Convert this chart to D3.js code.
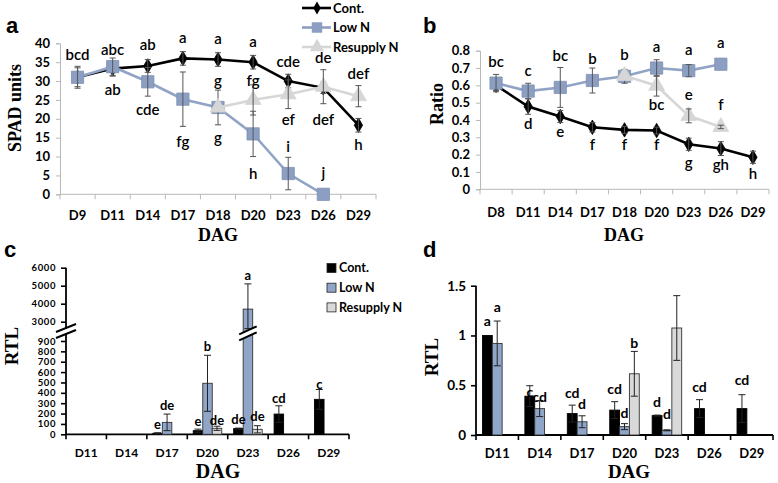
<!DOCTYPE html>
<html><head><meta charset="utf-8">
<script src="https://cdn.jsdelivr.net/npm/d3@7"></script>
<style>
body{margin:0;background:#fff;}
svg{display:block;}
</style></head>
<body>
<svg id="chart" width="778" height="483"></svg>
<script>
// ---------- Data ----------
const seriesNames = ["Cont.", "Low N", "Resupply N"];

// Panel a: SPAD units
const daysA = ["D9","D11","D14","D17","D18","D20","D23","D26","D29"];
const spadCont    = [31, 33.3, 34, 36, 35.7, 35, 30, 28.2, 18.3];
const spadContErr = [2.5, 2, 1.7, 1.8, 1.8, 1.8, 1.8, 1.5, 1.8];
const spadLow     = [31, 33.8, 29.8, 25.2, 23, 16, 5.5, 0, null];
const spadLowErr  = [2.9, 2.3, 3.8, 7.2, 4.6, 6, 4.3, 0, null];
const spadRes     = [null, null, null, null, 23, 25, 26.5, 28.5, 26];
const spadResErr  = [null, null, null, null, 0, 4, 3.8, 4.5, 2.8];
const spadTicks   = [0,5,10,15,20,25,30,35,40];
const annA = [
  ["D9","bcd",36.9],["D11","abc",38.4],["D14","ab",39.5],["D17","a",41.6],["D18","a",41.3],
  ["D20","a",40.4],["D23","cde",35.1],["D26","de",36.2],["D29","def",31.9],
  ["D11","ab",27.8],["D14","cde",22.3],["D17","fg",13.9],["D18","g",30.0],["D18","g",15.0],
  ["D20","fg",30.0],["D20","h",5.4],["D23","ef",19.7],["D23","i",12.6],["D26","def",19.7],
  ["D26","j",5.6],["D29","h",13.1]
];

// Panel b: Ratio
const daysB = ["D8","D11","D14","D17","D18","D20","D23","D26","D29"];
const ratioCont    = [0.6, 0.478, 0.42, 0.358, 0.343, 0.339, 0.26, 0.235, 0.185];
const ratioContErr = [0.03, 0.045, 0.035, 0.027, 0.02, 0.02, 0.035, 0.04, 0.035];
const ratioLow     = [0.613, 0.567, 0.588, 0.628, 0.652, 0.70, 0.685, 0.722, null];
const ratioLowErr  = [0.05, 0.045, 0.115, 0.072, 0.04, 0.048, 0.035, 0, null];
const ratioRes     = [null, null, null, null, 0.655, 0.598, 0.424, 0.36, null];
const ratioResErr  = [null, null, null, null, 0, 0.06, 0.04, 0.01, null];
const ratioTicks   = [0,0.1,0.2,0.3,0.4,0.5,0.6,0.7,0.8];
const annB = [
  ["D8","bc",0.737],["D11","c",0.685],["D14","bc",0.769],["D17","b",0.754],["D18","b",0.779],
  ["D20","a",0.823],["D23","a",0.808],["D26","a",0.846],["D11","d",0.381],["D14","e",0.333],
  ["D17","f",0.256],["D18","f",0.256],["D20","f",0.256],["D20","bc",0.487],["D23","e",0.544],
  ["D26","f",0.49],["D23","g",0.154],["D26","gh",0.14],["D29","h",0.092]
];

// Panel c: RTL (broken axis)
const daysC = ["D11","D14","D17","D20","D23","D26","D29"];
const rtlCCont    = [null, null, 10, 35, 55, 195, 337];
const rtlCContErr = [null, null, 5, 15, 5, 80, 95];
const rtlCLow     = [null, null, 115, 492, 3700, null, null];
const rtlCLowErr  = [null, null, 80, 270, 1400, null, null];
const rtlCRes     = [null, null, null, 58, 48, null, null];
const rtlCResErr  = [null, null, null, 20, 35, null, null];
const rtlCTicks   = [0,100,200,300,400,500,600,700,800,900,3000,4000,5000,6000];
const annC = [ // [day, series index, text, value]
  ["D17",0,"e",96],["D17",1,"de",283],["D20",0,"e",121],["D20",1,"b",845],["D20",2,"de",131],
  ["D23",0,"de",148],["D23",1,"a",5594],["D23",2,"de",170],["D26",0,"cd",347],["D29",0,"c",480]
];

// Panel d: RTL
const rtlDCont    = [1.0, 0.39, 0.215, 0.25, 0.195, 0.265, 0.265];
const rtlDContErr = [0, 0.105, 0.085, 0.085, 0.005, 0.09, 0.14];
const rtlDLow     = [0.92, 0.265, 0.133, 0.084, 0.047, null, null];
const rtlDLowErr  = [0.225, 0.08, 0.06, 0.03, 0.005, null, null];
const rtlDRes     = [null, null, null, 0.615, 1.075, null, null];
const rtlDResErr  = [null, null, null, 0.225, 0.325, null, null];
const rtlDTicks   = [0, 0.5, 1, 1.5];
const annD = [
  ["D11",0,"a",1.149],["D11",1,"a",1.289],["D14",0,"c",0.435],["D14",1,"cd",0.382],
  ["D17",0,"cd",0.422],["D17",1,"d",0.312],["D20",0,"cd",0.462],["D20",1,"d",0.221],
  ["D20",2,"b",0.925],["D23",0,"d",0.335],["D23",1,"d",0.211],["D26",0,"cd",0.485],["D29",0,"cd",0.553]
];

// ---------- Styles ----------
const colCont = "#000000", colLow = "#8c9fc2", colLowLine = "#91a4c5", colRes = "#d6d6d6";
const barLow = "#8fa6c8", barRes = "#d9d9d9";
const tickFont = "Lato, 'Open Sans', sans-serif";
const serif = "'Liberation Serif', 'Times New Roman', serif";
const svg = d3.select("#chart");

function panelLetter(t, x, y){
  svg.append("text").attr("x",x).attr("y",y).text(t)
    .attr("font-family","'Liberation Sans', Arial, sans-serif").attr("font-weight","bold").attr("font-size",22);
}
function title(t, x, y, size, rotate){
  const el = svg.append("text").text(t).attr("text-anchor","middle")
    .attr("font-family",serif).attr("font-weight","bold").attr("font-size",size);
  if(rotate) el.attr("transform",`translate(${x},${y}) rotate(-90)`);
  else el.attr("x",x).attr("y",y);
}

// ---------- Line panels (a, b) ----------
function linePanel(opt){
  const g = svg.append("g");
  const x = d3.scaleBand().domain(opt.days).range(opt.xr);
  const y = d3.scaleLinear().domain(opt.ydom).range(opt.yr);
  const cx = d => x(d) + x.bandwidth()/2;
  const axisCol = "#b8b8b8";
  const ya = g.append("g").attr("transform",`translate(${opt.xr[0]},0)`)
    .call(d3.axisLeft(y).tickValues(opt.ticks).tickSize(4).tickPadding(6).tickFormat(opt.fmt));
  ya.select(".domain").attr("stroke",axisCol);
  ya.selectAll(".tick line").attr("stroke",axisCol);
  ya.selectAll(".tick text").attr("font-family",tickFont).attr("font-weight","bold").attr("font-size",13).attr("fill","#000");
  const y0 = y(0);
  g.append("line").attr("x1",opt.xr[0]).attr("x2",opt.xr[1]).attr("y1",y0).attr("y2",y0).attr("stroke",axisCol);
  const bounds = opt.days.map(d=>x(d)).concat([opt.xr[1]]);
  g.selectAll(".xt").data(bounds).join("line").attr("x1",d=>d).attr("x2",d=>d)
    .attr("y1",y0).attr("y2",y0+5).attr("stroke",axisCol);
  g.selectAll(".xl").data(opt.days).join("text").attr("x",cx).attr("y",opt.xlabY)
    .attr("text-anchor","middle").attr("font-family",tickFont).attr("font-weight","bold").attr("font-size",13).text(d=>d);

  const series = [
    {v:opt.cont, e:opt.contErr, color:colCont, line:colCont, shape:"diamond"},
    {v:opt.low, e:opt.lowErr, color:colLow, line:colLowLine, shape:"square"},
    {v:opt.res, e:opt.resErr, color:colRes, line:colRes, shape:"triangle"}
  ];
  series.forEach(s=>{
    const pts = opt.days.map((d,i)=>({d, v:s.v[i], e:s.e[i]})).filter(p=>p.v!=null);
    g.append("path").datum(pts).attr("fill","none").attr("stroke",s.line).attr("stroke-width",2.6)
      .attr("d",d3.line().x(p=>cx(p.d)).y(p=>y(p.v)));
    const sym = s.shape==="diamond" ? d3.symbolDiamond : s.shape==="square" ? d3.symbolSquare : d3.symbolTriangle;
    const size = s.shape==="diamond" ? 60 : s.shape==="square" ? 150 : 110;
    g.selectAll(null).data(pts).join("path").attr("d",d3.symbol(sym,size))
      .attr("transform",p=>`translate(${cx(p.d)},${y(p.v)})`).attr("fill",s.color)
      .attr("stroke", s.shape==="square" ? "#7d90b3" : s.color).attr("stroke-width",0.8);
    const eb = pts.filter(p=>p.e>0);
    const eg = g.append("g").attr("stroke","#555").attr("stroke-width",1);
    eg.selectAll(null).data(eb).join("line").attr("x1",p=>cx(p.d)).attr("x2",p=>cx(p.d))
      .attr("y1",p=>y(p.v-p.e)).attr("y2",p=>y(p.v+p.e));
    eg.selectAll(null).data(eb.flatMap(p=>[{d:p.d,v:p.v-p.e},{d:p.d,v:p.v+p.e}])).join("line")
      .attr("x1",p=>cx(p.d)-3).attr("x2",p=>cx(p.d)+3).attr("y1",p=>y(p.v)).attr("y2",p=>y(p.v));
  });
  g.selectAll(".ann").data(opt.ann).join("text").attr("x",a=>cx(a[0])).attr("y",a=>y(a[2]))
    .attr("dy","0.35em").attr("text-anchor","middle").attr("font-family",tickFont).attr("font-weight",600)
    .attr("font-size",15).text(a=>a[1]);
}

linePanel({days:daysA, xr:[60,376], ydom:[0,40], yr:[194.3,43.3], ticks:spadTicks, fmt:d3.format("d"),
  xlabY:220, cont:spadCont, contErr:spadContErr, low:spadLow, lowErr:spadLowErr, res:spadRes, resErr:spadResErr, ann:annA});
linePanel({days:daysB, xr:[480,769], ydom:[0,0.8], yr:[189.3,50.7], ticks:ratioTicks, fmt:d=>d===0?"0":d3.format(".1f")(d),
  xlabY:217, cont:ratioCont, contErr:ratioContErr, low:ratioLow, lowErr:ratioLowErr, res:ratioRes, resErr:ratioResErr, ann:annB});

// legend for line panels
(function(){
  const lg = svg.append("g");
  const items = [
    {n:seriesNames[0], c:colCont, sym:d3.symbolDiamond, s:50},
    {n:seriesNames[1], c:colLow, sym:d3.symbolSquare, s:110},
    {n:seriesNames[2], c:colRes, sym:d3.symbolTriangle, s:90}
  ];
  items.forEach((it,i)=>{
    const yy = 8 + i*19.5;
    lg.append("line").attr("x1",302).attr("x2",331).attr("y1",yy).attr("y2",yy).attr("stroke",it.c).attr("stroke-width",2.6);
    lg.append("path").attr("d",d3.symbol(it.sym,it.s)).attr("transform",`translate(317,${yy})`).attr("fill",it.c);
    lg.append("text").attr("x",333).attr("y",yy).attr("dy","0.35em").text(it.n)
      .attr("font-family",tickFont).attr("font-weight","bold").attr("font-size",13);
  });
})();

panelLetter("a", 6, 33);
panelLetter("b", 423, 33);
title("SPAD units", 21, 108, 18, true);
title("Ratio", 443, 104, 18, true);
title("DAG", 218, 241, 18, false);
title("DAG", 624, 241, 18, false);

// ---------- Bar panels (c, d) ----------
function barPanel(opt){
  const g = svg.append("g");
  const x = d3.scaleBand().domain(daysC).range(opt.xr);
  const y = opt.y;
  const w = x.bandwidth()*opt.barFrac;
  const inner = d3.scaleBand().domain([0,1,2]).range([-1.5*w, 1.5*w]);
  const bx = (d,si) => x(d) + x.bandwidth()/2 + inner(si);
  const y0 = y(0);
  const ya = g.append("g").attr("transform",`translate(${opt.xr[0]},0)`)
    .call(d3.axisLeft(y).tickValues(opt.ticks).tickSize(5).tickPadding(5).tickFormat(opt.fmt));
  ya.select(".domain").remove();
  ya.selectAll(".tick line").attr("stroke","#000").attr("stroke-width",1.6);
  ya.selectAll(".tick text").attr("font-family",tickFont).attr("font-weight","bold").attr("font-size",opt.tickSize)
    .attr("letter-spacing",opt.tickSpacing||0).attr("fill","#000");
  (opt.axisSegs || [[opt.ytop, y0]]).forEach(sg=>{
    g.append("line").attr("x1",opt.xr[0]).attr("x2",opt.xr[0]).attr("y1",sg[0]).attr("y2",sg[1]).attr("stroke","#000").attr("stroke-width",1.8);
  });
  g.append("line").attr("x1",opt.xr[0]).attr("x2",opt.xr[1]).attr("y1",y0).attr("y2",y0).attr("stroke","#000").attr("stroke-width",1.8);
  const bounds = daysC.map(d=>x(d)).concat([opt.xr[1]]);
  g.selectAll(".xt").data(bounds).join("line").attr("x1",d=>d).attr("x2",d=>d)
    .attr("y1",y0).attr("y2",y0+5).attr("stroke","#000").attr("stroke-width",1.6);
  g.selectAll(".xl").data(daysC).join("text").attr("x",d=>x(d)+x.bandwidth()/2).attr("y",opt.xlabY)
    .attr("text-anchor","middle").attr("font-family",tickFont).attr("font-weight","bold").attr("font-size",opt.xTickSize).text(d=>d);
  const series = [
    {v:opt.cont, e:opt.contErr, fill:"#000", stroke:"#000"},
    {v:opt.low, e:opt.lowErr, fill:barLow, stroke:"#333"},
    {v:opt.res, e:opt.resErr, fill:barRes, stroke:"#333"}
  ];
  series.forEach((s,si)=>{
    const pts = daysC.map((d,i)=>({d, v:s.v[i], e:s.e[i]})).filter(p=>p.v!=null);
    g.selectAll(null).data(pts).join("rect").attr("x",p=>bx(p.d,si)).attr("width",inner.bandwidth())
      .attr("y",p=>y(p.v)).attr("height",p=>y0-y(p.v)).attr("fill",s.fill).attr("stroke",s.stroke).attr("stroke-width",0.9);
    const eb = pts.filter(p=>p.e>0);
    const eg = g.append("g").attr("stroke", "#222").attr("stroke-width",1);
    const mid = p => bx(p.d,si)+inner.bandwidth()/2;
    eg.selectAll(null).data(eb).join("line").attr("x1",mid).attr("x2",mid)
      .attr("y1",p=>y(Math.max(0,p.v-p.e))).attr("y2",p=>y(p.v+p.e));
    eg.selectAll(null).data(eb.flatMap(p=>[{d:p.d,v:p.v-p.e},{d:p.d,v:p.v+p.e}]).filter(p=>p.v>0)).join("line")
      .attr("x1",p=>mid(p)-3.5).attr("x2",p=>mid(p)+3.5).attr("y1",p=>y(p.v)).attr("y2",p=>y(p.v));
  });
  g.selectAll(".ann").data(opt.ann).join("text").attr("x",a=>bx(a[0],a[1])+inner.bandwidth()/2).attr("y",a=>y(a[3]))
    .attr("dy","0.35em").attr("text-anchor","middle").attr("font-family",tickFont).attr("font-weight","bold")
    .attr("font-size",opt.annSize).text(a=>a[2]);
  return {g, x, y, bx, inner};
}

// panel c with broken axis: polylinear scale
const yC = d3.scaleLinear().domain([0, 950, 2750, 6000]).range([434.3, 335.8, 326.2, 267.7]);
const pc = barPanel({xr:[66,349], y:yC, ticks:rtlCTicks, fmt:d3.format("d"), tickSize:9.5, tickSpacing:0.6, xTickSize:12,
  axisSegs:[[267.7, 327.5],[334.5, 434.3]], xlabY:457, barFrac:0.235,
  cont:rtlCCont, contErr:rtlCContErr, low:rtlCLow, lowErr:rtlCLowErr, res:rtlCRes, resErr:rtlCResErr, ann:annC, annSize:13});
function breakMark(x1, x2, yc){
  const slope = 4;
  svg.append("path").attr("d",`M${x1},${yc+slope-3}L${x2},${yc-slope-3}L${x2},${yc-slope+3}L${x1},${yc+slope+3}Z`).attr("fill","#fff");
  svg.append("line").attr("x1",x1).attr("y1",yc+slope-3).attr("x2",x2).attr("y2",yc-slope-3).attr("stroke","#000").attr("stroke-width",2);
  svg.append("line").attr("x1",x1).attr("y1",yc+slope+3).attr("x2",x2).attr("y2",yc-slope+3).attr("stroke","#000").attr("stroke-width",2);
}
breakMark(56, 76, 331);
breakMark(pc.bx("D23",1)-4, pc.bx("D23",1)+pc.inner.bandwidth()+4, yC(1400));

// legend c
(function(){
  const items = [{n:seriesNames[0], f:"#000"},{n:seriesNames[1], f:barLow},{n:seriesNames[2], f:barRes}];
  items.forEach((it,i)=>{
    const yy = 268 + i*19.7;
    svg.append("rect").attr("x",327).attr("y",yy-4.5).attr("width",9).attr("height",9).attr("fill",it.f).attr("stroke","#222").attr("stroke-width",0.8);
    svg.append("text").attr("x",339).attr("y",yy).attr("dy","0.35em").text(it.n)
      .attr("font-family",tickFont).attr("font-weight","bold").attr("font-size",12.5);
  });
})();

// panel d
const yD = d3.scaleLinear().domain([0,1.5]).range([435, 285.7]);
barPanel({xr:[476,773], y:yD, ticks:rtlDTicks, fmt:d=>d===0?"0":String(d), tickSize:13.5, xTickSize:13,
  ytop:285.7, xlabY:458, barFrac:0.232,
  cont:rtlDCont, contErr:rtlDContErr, low:rtlDLow, lowErr:rtlDLowErr, res:rtlDRes, resErr:rtlDResErr, ann:annD, annSize:14});

panelLetter("c", 4, 257);
panelLetter("d", 423, 257);
title("RTL", 18, 346, 19, true);
title("RTL", 438, 357, 19, true);
title("DAG", 218, 478, 20, false);
title("DAG", 629, 478, 19, false);
</script>
</body></html>
